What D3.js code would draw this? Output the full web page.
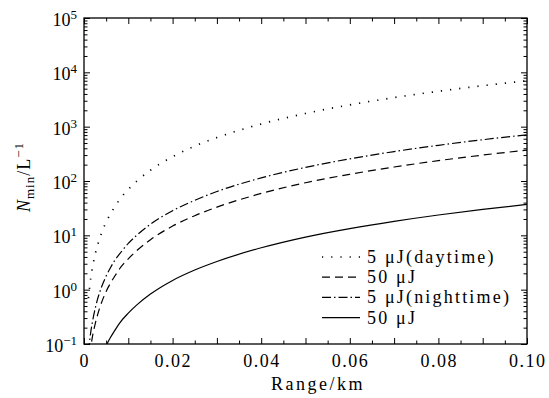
<!DOCTYPE html>
<html>
<head>
<meta charset="utf-8">
<script src="https://d3js.org/d3.v7.min.js"></script>
</head>
<body style="margin:0">
<script>
// range in km
var ranges   = [0.001, 0.0015, 0.002, 0.0025, 0.003, 0.004, 0.005, 0.006, 0.007, 0.008, 0.01, 0.012, 0.015, 0.02, 0.025, 0.03, 0.04, 0.05, 0.06, 0.07, 0.08, 0.09, 0.1];
var dayLow   = [0.7, 1.58, 2.8, 4.4, 6.3, 11.2, 17.5, 25, 34, 45, 70, 101, 158, 280, 440, 630, 1120, 1750, 2520, 3430, 4480, 5670, 7000];
var dayHigh  = [0.037, 0.083, 0.15, 0.23, 0.33, 0.59, 0.93, 1.33, 1.8, 2.4, 3.7, 5.3, 8.3, 14.8, 23, 33, 59, 93, 133, 181, 237, 300, 370];
var nightLow = [0.071, 0.16, 0.28, 0.44, 0.64, 1.14, 1.78, 2.56, 3.5, 4.5, 7.1, 10.2, 16, 28.4, 44, 64, 114, 178, 256, 348, 454, 575, 710];
var nightHigh= [0.0037, 0.0083, 0.015, 0.023, 0.033, 0.059, 0.093, 0.133, 0.18, 0.24, 0.37, 0.53, 0.83, 1.48, 2.3, 3.3, 5.9, 9.3, 13.3, 18.1, 23.7, 30, 37];

var legendLabels = ["5 μJ(daytime)", "50 μJ", "5 μJ(nighttime)", "50 μJ"];
var dashes = ["1.2,8", "8,5", "9,3,1.5,3", null];
var xLabelTicks = [0, 0.02, 0.04, 0.06, 0.08, 0.10];
var yDecades = [-1, 0, 1, 2, 3, 4, 5];

var W = 549, H = 398;
var m = {left: 84, right: 22, top: 18, bottom: 54};
var iw = W - m.left - m.right, ih = H - m.top - m.bottom;
var FONT = "'Liberation Serif'";

var svg = d3.select("body").append("svg").attr("width", W).attr("height", H);
var g = svg.append("g").attr("transform", "translate(" + m.left + "," + m.top + ")");

var x = d3.scaleLinear().domain([0, 0.1]).range([0, iw]);
var y = d3.scaleLog().domain([0.1, 1e5]).range([ih, 0]);

g.append("clipPath").attr("id", "clip")
  .append("rect").attr("width", iw).attr("height", ih);

// curves
var series = [dayLow, dayHigh, nightLow, nightHigh];
var line = d3.line()
  .x(function(d) { return x(d[0]); })
  .y(function(d) { return y(d[1]); })
  .curve(d3.curveMonotoneX);

g.append("g").attr("clip-path", "url(#clip)")
  .selectAll("path").data(series).enter().append("path")
    .attr("d", function(s) { return line(ranges.map(function(r, i) { return [r, s[i]]; })); })
    .attr("fill", "none")
    .attr("stroke", "#000")
    .attr("stroke-width", function(d, i) { return i == 0 ? 1.7 : 1.2; })
    .attr("stroke-dasharray", function(d, i) { return dashes[i]; });

// ticks
var xMajor = d3.range(0, 11).map(function(i) { return i / 100; });
var xMinor = d3.range(0, 10).map(function(i) { return i / 100 + 0.005; });
var yMinor = [];
yDecades.slice(0, -1).forEach(function(e) {
  for (var k = 2; k < 10; k++) yMinor.push(k * Math.pow(10, e));
});
var yMajor = yDecades.map(function(e) { return Math.pow(10, e); });

function noLabel() { return ""; }

g.append("g").attr("transform", "translate(0," + ih + ")")
  .call(d3.axisBottom(x).tickValues(xMajor).tickSize(-6).tickFormat(noLabel));
g.append("g").attr("transform", "translate(0," + ih + ")")
  .call(d3.axisBottom(x).tickValues(xMinor).tickSize(-3.5).tickFormat(noLabel));
g.append("g")
  .call(d3.axisTop(x).tickValues(xMajor).tickSize(-6).tickFormat(noLabel));
g.append("g")
  .call(d3.axisTop(x).tickValues(xMinor).tickSize(-3.5).tickFormat(noLabel));

g.append("g").call(d3.axisLeft(y).tickValues(yMajor).tickSize(-6).tickFormat(noLabel));
g.append("g").call(d3.axisLeft(y).tickValues(yMinor).tickSize(-3.5).tickFormat(noLabel));
g.append("g").attr("transform", "translate(" + iw + ",0)")
  .call(d3.axisRight(y).tickValues(yMajor).tickSize(-6).tickFormat(noLabel));
g.append("g").attr("transform", "translate(" + iw + ",0)")
  .call(d3.axisRight(y).tickValues(yMinor).tickSize(-3.5).tickFormat(noLabel));

g.selectAll(".domain").remove();
g.selectAll(".tick line").attr("stroke", "#000").attr("stroke-width", 1);
g.selectAll(".tick text").remove();

g.append("rect").attr("width", iw).attr("height", ih)
  .attr("fill", "none").attr("stroke", "#000").attr("stroke-width", 1.3);

// x labels
svg.selectAll(".xlab").data(xLabelTicks).enter().append("text")
  .attr("class", "xlab")
  .attr("x", function(d) { return m.left + x(d) + 0.75; })
  .attr("y", m.top + ih + 23)
  .attr("text-anchor", "middle")
  .attr("font-size", 18)
  .attr("letter-spacing", 1.5)
  .style("font-family", FONT)
  .text(function(d) { return d === 0 ? "0" : d3.format(".2f")(d); });

// y labels 10^n
var yl = svg.selectAll(".ylab").data(yDecades).enter().append("text")
  .attr("class", "ylab")
  .attr("x", m.left - 7)
  .attr("y", function(e) { return m.top + y(Math.pow(10, e)) + 8; })
  .attr("text-anchor", "end")
  .attr("font-size", 18)
  .style("font-family", FONT);
yl.append("tspan").text("10");
yl.append("tspan").attr("dy", -7).attr("font-size", 13)
  .text(function(e) { return e < 0 ? "\u2212" + (-e) : String(e); });

// axis titles
svg.append("text")
  .attr("x", 318).attr("y", 390)
  .attr("text-anchor", "middle")
  .attr("font-size", 18)
  .attr("letter-spacing", 2.5)
  .style("font-family", FONT)
  .text("Range/km");

var yt = svg.append("text")
  .attr("transform", "translate(30,177) rotate(-90)")
  .attr("text-anchor", "middle")
  .attr("font-size", 18)
  .attr("letter-spacing", 1)
  .style("font-family", FONT);
yt.append("tspan").attr("font-style", "italic").text("N");
yt.append("tspan").attr("dy", 4).attr("font-size", 13).text("min");
yt.append("tspan").attr("dy", -4).text("/L");
yt.append("tspan").attr("dy", -7).attr("font-size", 13).text("\u22121");

// legend
var lg = svg.append("g").attr("transform", "translate(322,257)");
var rows = lg.selectAll("g").data(legendLabels).enter().append("g")
  .attr("transform", function(d, i) { return "translate(0," + (i * 20.2) + ")"; });
rows.append("line")
  .attr("x1", 0).attr("x2", 38).attr("y1", 0).attr("y2", 0)
  .attr("stroke", "#000")
  .attr("stroke-width", function(d, i) { return i == 0 ? 1.7 : 1.2; })
  .attr("stroke-dasharray", function(d, i) { return dashes[i]; });
rows.append("text")
  .attr("x", 45).attr("y", 6)
  .attr("font-size", 18)
  .attr("letter-spacing", 2.2)
  .style("font-family", FONT)
  .text(function(d) { return d; });
</script>
</body>
</html>
